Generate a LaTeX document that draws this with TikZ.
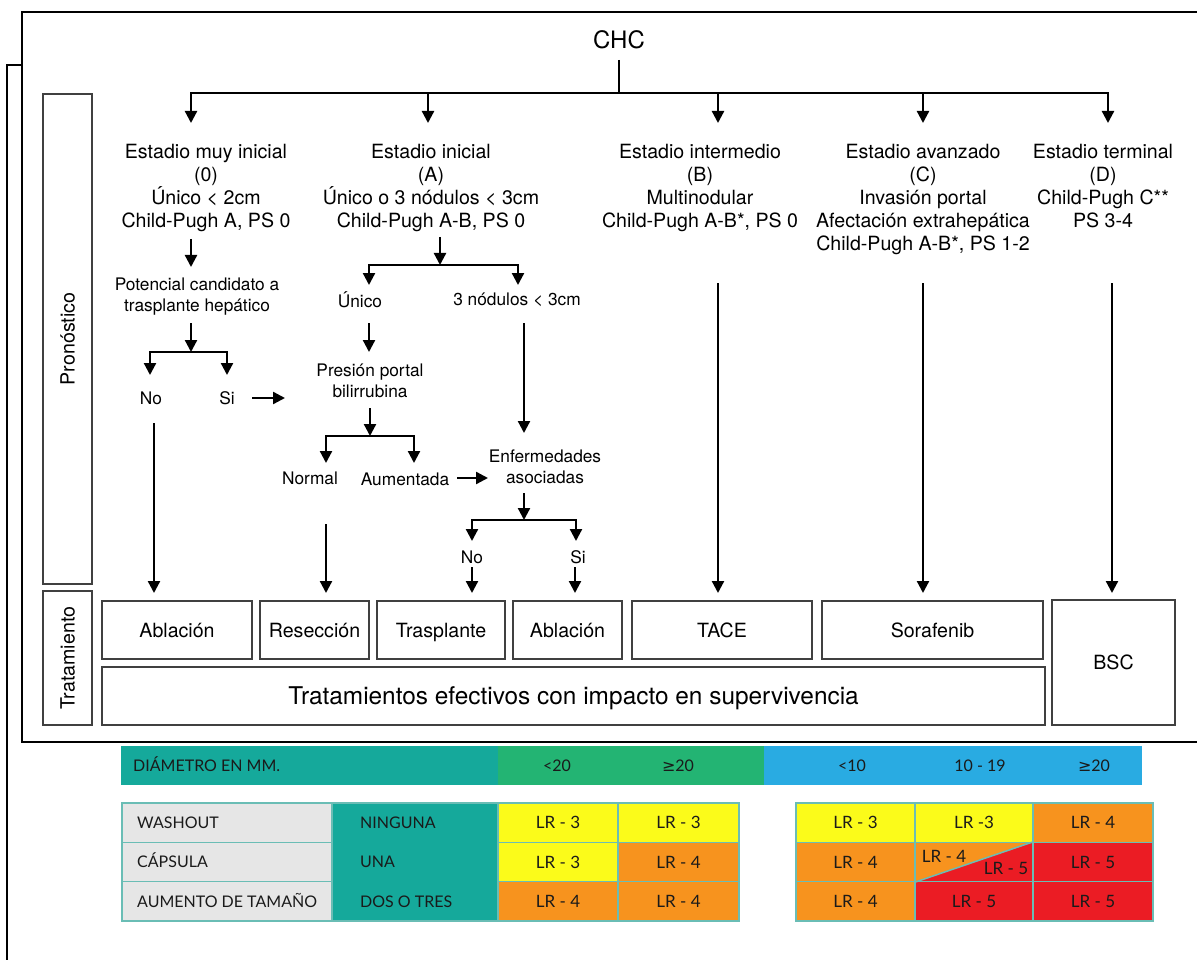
\documentclass[tikz,border=0pt]{standalone}
\usepackage{fontspec}
\setmainfont{TeX Gyre Heros}
\newfontfamily\tabfont{Lato}
\newfontfamily\symfont{DejaVu Sans}
\usetikzlibrary{arrows.meta}

\definecolor{bandteal}{HTML}{15A99B}
\definecolor{bandgreen}{HTML}{23B473}
\definecolor{bandblue}{HTML}{29ABE2}
\definecolor{lryellow}{HTML}{FBFB1A}
\definecolor{lrorange}{HTML}{F7931E}
\definecolor{lrred}{HTML}{EB1C24}
\definecolor{labelgray}{HTML}{E6E6E6}
\definecolor{gridline}{HTML}{6ABDB5}
\definecolor{boxline}{HTML}{404040}
\definecolor{tabtext}{HTML}{1A1A1A}

\tikzset{
  big/.style={font=\fontsize{19.6}{23}\selectfont, align=center, inner sep=0pt},
  small/.style={font=\fontsize{17.3}{21}\selectfont, align=center, inner sep=0pt},
  conn/.style={line width=2.3pt},
  arr/.style={line width=2.3pt, ->},
  fork/.style={line width=2.3pt, <->},
  tbox/.style={draw=boxline, line width=1.2pt, inner sep=0pt,
    font=\fontsize{19.6}{23}\selectfont, text height=14.1pt, text depth=0pt},
  frame/.style={line width=2.8pt},
  bandtext/.style={inner sep=0pt, text=tabtext, font=\tabfont\fontsize{16}{18}\selectfont},
  cell/.style={draw=gridline, line width=1.5pt, inner sep=0pt, text=tabtext,
    font=\tabfont\fontsize{17}{20}\selectfont, minimum height=39.3},
  tealab/.style={inner sep=0pt, text=tabtext, font=\tabfont\fontsize{16}{20}\selectfont}
}

\begin{document}
\begin{tikzpicture}[x=1pt, y=-1pt, >={Triangle[width=12pt,length=12pt]}, line join=miter]
\useasboundingbox (0,0) rectangle (1197,960);

% ---------- frames ----------
\draw[frame] (22,65) -- (7,65) -- (7,975);
\draw[frame] (22,12) rectangle (1215,742);

% ---------- side labels ----------
\node[tbox, rotate=90, minimum width=490, minimum height=49] (pron) at (67.5,339) {Pronóstico};
\node[tbox, rotate=90, minimum width=134, minimum height=49] (trat) at (67.5,658) {Tratamiento};

% ---------- root and stages ----------
\node[inner sep=0pt, font=\fontsize{24}{28}\selectfont, anchor=base] (chc) at (619,48.6) {CHC};

\node[big, anchor=north] (s0) at (206,144) {Estadio muy inicial\\(0)\\Único < 2cm\\Child-Pugh A, PS 0};
\node[big, anchor=north] (sA) at (431,144) {Estadio inicial\\(A)\\Único o 3 nódulos < 3cm\\Child-Pugh A-B, PS 0};
\node[big, anchor=north] (sB) at (700,144) {Estadio intermedio\\(B)\\Multinodular\\Child-Pugh A-B*, PS 0};
\node[big, anchor=north] (sC) at (923,144) {Estadio avanzado\\(C)\\Invasión portal\\Afectación extrahepática\\Child-Pugh A-B*, PS 1-2};
\node[big, anchor=north] (sD) at (1103,144) {Estadio terminal\\(D)\\Child-Pugh C**\\PS 3-4};

\coordinate (chcfoot) at (619,60);
\coordinate (bus) at (619,93);
\coordinate (b0) at (191,93);  \coordinate (e0) at (191,123);
\coordinate (bA) at (428,93);  \coordinate (eA) at (428,123);
\coordinate (bB) at (718,93);  \coordinate (eB) at (718,123);
\coordinate (bC) at (923,93);  \coordinate (eC) at (923,123);
\coordinate (bD) at (1108,93); \coordinate (eD) at (1108,123);
\draw[conn] (chcfoot) -- (bus);
\draw[fork] (e0) -- (b0) -- (bD) -- (eD);
\draw[arr] (bA) -- (eA);
\draw[arr] (bB) -- (eB);
\draw[arr] (bC) -- (eC);

% ---------- very early stage branch ----------
\node[small, anchor=north] (pc) at (197,277.8) {Potencial candidato a\\trasplante hepático};
\coordinate (s0out) at (191,239); \coordinate (pcin) at (191,267);
\draw[arr] (s0out) -- (pcin);
\coordinate (pcout) at (191,323); \coordinate (fk0) at (191,352);
\draw[arr] (pcout) -- (fk0);
\coordinate (fk0L) at (150,352); \coordinate (fk0R) at (227,352);
\coordinate (no0in) at (150,375); \coordinate (si0in) at (227,375);
\draw[fork] (no0in) -- (fk0L) -- (fk0R) -- (si0in);
\node[small, anchor=base] (no0) at (151,404.2) {No};
\node[small, anchor=base] (si0) at (227,404.2) {Si};
\coordinate (si0out) at (252,398); \coordinate (presin) at (285,398);
\draw[arr] (si0out) -- (presin);

% ---------- early stage branch ----------
\coordinate (sAout) at (440,237); \coordinate (fkA) at (440,265);
\draw[arr] (sAout) -- (fkA);
\coordinate (fkAL) at (369,265); \coordinate (fkAR) at (518,265);
\coordinate (unin) at (369,285); \coordinate (trin) at (518,285);
\draw[fork] (unin) -- (fkAL) -- (fkAR) -- (trin);
\node[small, anchor=base] (unico) at (360,307.2) {Único};
\node[small, anchor=base] (tres) at (517,305.2) {3 nódulos < 3cm};

\coordinate (unout) at (369,323); \coordinate (prin) at (369,352);
\draw[arr] (unout) -- (prin);
\node[small, anchor=north] (pres) at (370,363.8) {Presión portal\\bilirrubina};
\coordinate (prout) at (370,408); \coordinate (fkP) at (370,436);
\draw[arr] (prout) -- (fkP);
\coordinate (fkPL) at (326,436); \coordinate (fkPR) at (414,436);
\coordinate (normin) at (326,463); \coordinate (aumin) at (414,463);
\draw[fork] (normin) -- (fkPL) -- (fkPR) -- (aumin);
\node[small, anchor=base] (normal) at (310,484.2) {Normal};
\node[small, anchor=base] (aum) at (405,485.2) {Aumentada};
\coordinate (aumout) at (457,478); \coordinate (enfin) at (488,478);
\draw[arr] (aumout) -- (enfin);

\coordinate (trout) at (524,323); \coordinate (enftop) at (524,433);
\draw[arr] (trout) -- (enftop);
\node[small, anchor=north] (enf) at (545,449.8) {Enfermedades\\asociadas};
\coordinate (enfout) at (524,493); \coordinate (fkE) at (524,520);
\draw[arr] (enfout) -- (fkE);
\coordinate (fkEL) at (472,520); \coordinate (fkER) at (576,520);
\coordinate (no2in) at (472,541); \coordinate (si2in) at (576,541);
\draw[fork] (no2in) -- (fkEL) -- (fkER) -- (si2in);
\node[small, anchor=base] (no2) at (472,563.2) {No};
\node[small, anchor=base] (si2) at (578,563.2) {Si};

% ---------- treatments ----------
\node[tbox, minimum width=150, minimum height=58] (abl1) at (177,630) {Ablación};
\node[tbox, minimum width=109, minimum height=58] (res) at (314.5,630) {Resección};
\node[tbox, minimum width=128, minimum height=58] (tra) at (441,630) {Trasplante};
\node[tbox, minimum width=109, minimum height=58] (abl2) at (567.5,630) {Ablación};
\node[tbox, minimum width=180, minimum height=58] (tace) at (722,630) {TACE};
\node[tbox, minimum width=221, minimum height=58] (sor) at (932.5,630) {Sorafenib};
\node[tbox, minimum width=123, minimum height=125] (bsc) at (1113.5,662.5) {BSC};
\node[tbox, minimum width=943, minimum height=58, font=\fontsize{24.4}{28}\selectfont,
  text height=17.5pt] (eff) at (573.5,696) {Tratamientos efectivos con impacto en supervivencia};

\coordinate (no0out) at (154,423);  \coordinate (abl1in) at (154,593);
\coordinate (normout) at (326,524); \coordinate (resin) at (326,593);
\coordinate (no2out) at (472,567);  \coordinate (train) at (472,593);
\coordinate (si2out) at (575,567);  \coordinate (abl2in) at (575,593);
\coordinate (sBout) at (718,283);   \coordinate (tacein) at (718,593);
\coordinate (sCout) at (923,283);   \coordinate (sorin) at (923,593);
\coordinate (sDout) at (1112,283);  \coordinate (bscin) at (1112,593);
\draw[arr] (no0out) -- (abl1in);
\draw[arr] (normout) -- (resin);
\draw[arr] (no2out) -- (train);
\draw[arr] (si2out) -- (abl2in);
\draw[arr] (sBout) -- (tacein);
\draw[arr] (sCout) -- (sorin);
\draw[arr] (sDout) -- (bscin);

% ---------- diameter band ----------
\fill[bandteal] (121,746) rectangle (498,785);
\fill[bandgreen] (498,746) rectangle (764,785);
\fill[bandblue] (764,746) rectangle (1142,785);
\node[bandtext, anchor=base west] (diam) at (133,771.8) {DIÁMETRO EN MM.};
\node[bandtext, anchor=base] (g1) at (557,771.8) {<20};
\node[bandtext, anchor=base] (g2) at (678,771.8) {{\symfont ≥}20};
\node[bandtext, anchor=base] (h1) at (852,771.8) {<10};
\node[bandtext, anchor=base] (h2) at (980,771.8) {10 - 19};
\node[bandtext, anchor=base] (h3) at (1094,771.8) {{\symfont ≥}20};

% ---------- feature rows ----------
\node[cell, fill=labelgray, minimum width=210] (wash) at (227,822.7) {};
\node[cell, fill=labelgray, minimum width=210] (caps) at (227,862) {};
\node[cell, fill=labelgray, minimum width=210] (aumt) at (227,901.3) {};
\node[tealab, anchor=base west] (washt) at (137,828.5) {WASHOUT};
\node[tealab, anchor=base west] (capst) at (137,867.8) {CÁPSULA};
\node[tealab, anchor=base west] (aumtt) at (137,907.1) {AUMENTO DE TAMAÑO};
\node[cell, fill=bandteal, minimum width=166, minimum height=118] (cnt) at (415,862) {};
\node[tealab, anchor=base west] (ning) at (360,828.5) {NINGUNA};
\node[tealab, anchor=base west] (una) at (360,867.8) {UNA};
\node[tealab, anchor=base west] (dos) at (360,907.1) {DOS O TRES};

% left grid (<20, >=20)
\node[cell, fill=lryellow, minimum width=120] (l11) at (558,822.7) {LR - 3};
\node[cell, fill=lryellow, minimum width=121] (l12) at (678.5,822.7) {LR - 3};
\node[cell, fill=lryellow, minimum width=120] (l21) at (558,862) {LR - 3};
\node[cell, fill=lrorange, minimum width=121] (l22) at (678.5,862) {LR - 4};
\node[cell, fill=lrorange, minimum width=120] (l31) at (558,901.3) {LR - 4};
\node[cell, fill=lrorange, minimum width=121] (l32) at (678.5,901.3) {LR - 4};

% right grid (<10, 10-19, >=20)
\node[cell, fill=lryellow, minimum width=119] (r11) at (855.5,822.7) {LR - 3};
\node[cell, fill=lryellow, minimum width=118] (r12) at (974,822.7) {LR -3};
\node[cell, fill=lrorange, minimum width=120] (r13) at (1093,822.7) {LR - 4};
\node[cell, fill=lrorange, minimum width=119] (r21) at (855.5,862) {LR - 4};
\node[cell, fill=lrred, minimum width=120] (r23) at (1093,862) {LR - 5};
\node[cell, fill=lrorange, minimum width=119] (r31) at (855.5,901.3) {LR - 4};
\node[cell, fill=lrred, minimum width=118] (r32) at (974,901.3) {LR - 5};
\node[cell, fill=lrred, minimum width=120] (r33) at (1093,901.3) {LR - 5};

% split cell
\fill[lrorange] (915,842.35) -- (1033,842.35) -- (915,881.65) -- cycle;
\fill[lrred] (915,881.65) -- (1033,842.35) -- (1033,881.65) -- cycle;
\node[cell, minimum width=118] (r22) at (974,862) {};
\draw[gridline, line width=1.5pt] (r22.south west) -- (r22.north east);
\node[tealab, font=\tabfont\fontsize{17}{20}\selectfont, anchor=base] (r22a) at (944,862) {LR - 4};
\node[tealab, font=\tabfont\fontsize{17}{20}\selectfont, anchor=base] (r22b) at (1006,874) {LR - 5};
\end{tikzpicture}
\end{document}
